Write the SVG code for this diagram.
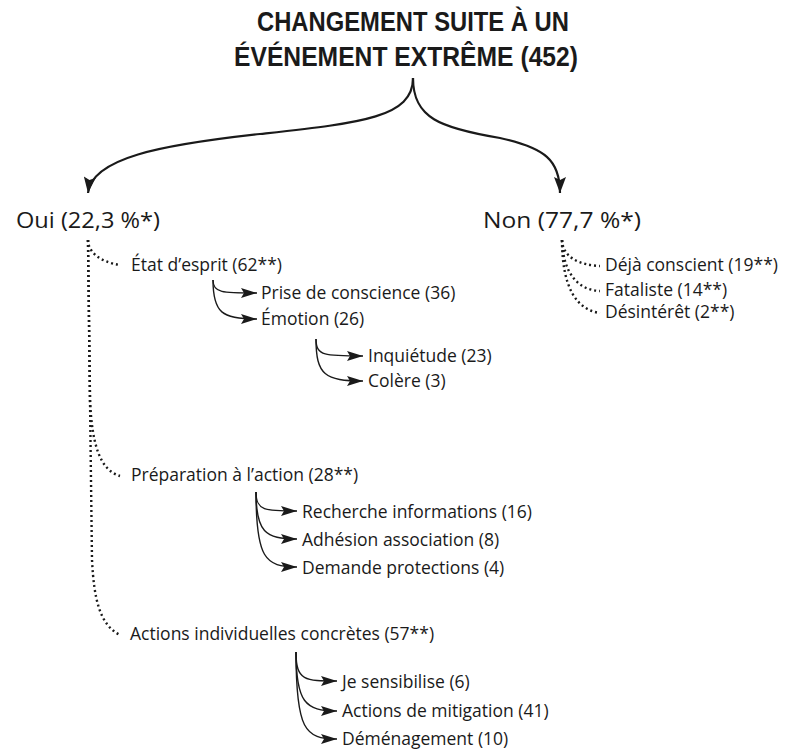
<svg xmlns="http://www.w3.org/2000/svg" width="806" height="751" viewBox="0 0 806 751">
<style>
.title{font-family:"Liberation Sans Narrow","Liberation Sans",sans-serif;font-weight:bold;font-size:27px;fill:#1a1a1a}
.big{font-family:"Open Sans","Noto Sans",sans-serif;font-size:21px;fill:#1a1a1a}
.lbl{font-family:"Open Sans","Noto Sans",sans-serif;font-size:17.5px;fill:#1a1a1a}
.solid{fill:none;stroke:#1a1a1a;stroke-width:1.4}
.thick{fill:none;stroke:#1a1a1a;stroke-width:2.2}
.dot{fill:none;stroke:#1a1a1a;stroke-width:2.4;stroke-dasharray:2 3}
</style>
<defs>
<marker id="ah" viewBox="0 0 16 10" refX="16" refY="5" markerWidth="16" markerHeight="10" markerUnits="userSpaceOnUse" orient="auto">
<path d="M0,0 L16,5 L0,10 L3,5 Z" fill="#1a1a1a"/>
</marker>
<marker id="ahBig" viewBox="0 0 16 12" refX="16" refY="6" markerWidth="16" markerHeight="12" markerUnits="userSpaceOnUse" orient="auto">
<path d="M0,0 L16,6 L0,12 L3,6 Z" fill="#1a1a1a"/>
</marker>
</defs>
<rect width="806" height="751" fill="#ffffff"/>
<g id="connectors">
<path class="thick" d="M413,78 C413,118 360,123 260,134 C160,145 92,158 88,193" marker-end="url(#ahBig)"/>
<path class="thick" d="M413,78 C413,118 440,128 500,138 C545,148 560,160 560,193" marker-end="url(#ahBig)"/>
<path class="dot" d="M88,240 C88,252 100,262 120,265"/>
<path class="dot" d="M88,240 L90,400 C92,445 100,470 120,476"/>
<path class="dot" d="M88,240 L92,560 C94,600 100,625 120,635"/>
<path class="dot" d="M562,240 C563,258 580,265 600,266"/>
<path class="dot" d="M562,240 C563,272 577,290 600,291"/>
<path class="dot" d="M562,240 C562,288 577,310 600,313"/>
<path class="solid" d="M213,280 C213,293 222,293 257,293" marker-end="url(#ah)"/>
<path class="solid" d="M213,280 C213,313 222,319 257,319" marker-end="url(#ah)"/>
<path class="solid" d="M316,339 C316,356 325,356 363,356" marker-end="url(#ah)"/>
<path class="solid" d="M316,339 C316,375 325,381 363,381" marker-end="url(#ah)"/>
<path class="solid" d="M256,492 C256,511 265,511 297,511" marker-end="url(#ah)"/>
<path class="solid" d="M256,492 C256,532 265,539 297,539" marker-end="url(#ah)"/>
<path class="solid" d="M256,492 C256,558 265,567 297,567" marker-end="url(#ah)"/>
<path class="solid" d="M296,652 C296,681 305,681 337,681" marker-end="url(#ah)"/>
<path class="solid" d="M296,652 C296,702 305,711 337,711" marker-end="url(#ah)"/>
<path class="solid" d="M296,652 C296,730 305,739 337,739" marker-end="url(#ah)"/>
</g>
<g id="root">
<text class="title" x="257" y="31" textLength="312" lengthAdjust="spacingAndGlyphs">CHANGEMENT SUITE À UN</text>
<text class="title" x="234" y="66" textLength="344" lengthAdjust="spacingAndGlyphs">ÉVÉNEMENT EXTRÊME (452)</text>
</g>
<g id="oui"><text class="big" x="16" y="228" textLength="144" lengthAdjust="spacingAndGlyphs">Oui (22,3 %*)</text></g>
<g id="non"><text class="big" x="483" y="228" textLength="158" lengthAdjust="spacingAndGlyphs">Non (77,7 %*)</text></g>
<g id="etat"><text class="lbl" x="131" y="271">État d’esprit (62**)</text></g>
<g id="prise"><text class="lbl" x="261" y="299">Prise de conscience (36)</text></g>
<g id="emotion"><text class="lbl" x="261" y="325">Émotion (26)</text></g>
<g id="inquietude"><text class="lbl" x="368" y="362">Inquiétude (23)</text></g>
<g id="colere"><text class="lbl" x="368" y="387">Colère (3)</text></g>
<g id="preparation"><text class="lbl" x="131" y="481">Préparation à l’action (28**)</text></g>
<g id="recherche"><text class="lbl" x="302" y="518">Recherche informations (16)</text></g>
<g id="adhesion"><text class="lbl" x="302" y="546">Adhésion association (8)</text></g>
<g id="demande"><text class="lbl" x="302" y="574">Demande protections (4)</text></g>
<g id="actions"><text class="lbl" x="130" y="640">Actions individuelles concrètes (57**)</text></g>
<g id="sensibilise"><text class="lbl" x="342" y="688">Je sensibilise (6)</text></g>
<g id="mitigation"><text class="lbl" x="342" y="717">Actions de mitigation (41)</text></g>
<g id="demenagement"><text class="lbl" x="342" y="745">Déménagement (10)</text></g>
<g id="deja"><text class="lbl" x="605" y="271">Déjà conscient (19**)</text></g>
<g id="fataliste"><text class="lbl" x="605" y="296">Fataliste (14**)</text></g>
<g id="desinteret"><text class="lbl" x="605" y="318">Désintérêt (2**)</text></g>
</svg>
